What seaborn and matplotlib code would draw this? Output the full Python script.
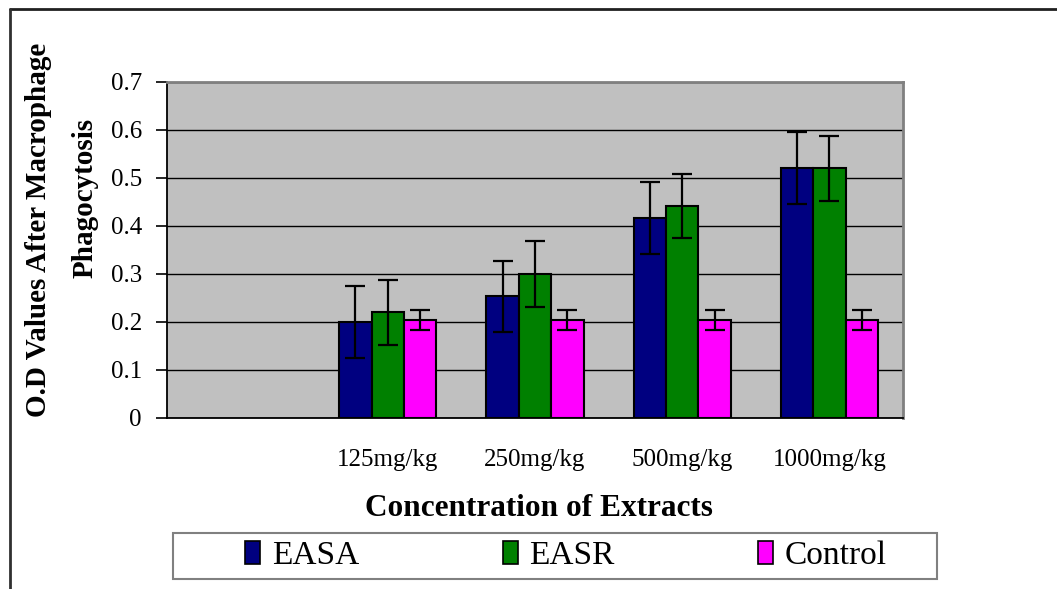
import matplotlib
matplotlib.use("Agg")
import matplotlib.pyplot as plt
from matplotlib.patches import Rectangle, Patch
from matplotlib.lines import Line2D
import seaborn as sns
import pandas as pd

# Concentrations (the first slot on the axis is left empty)
categories = ["", "125mg/kg", "250mg/kg", "500mg/kg", "1000mg/kg"]
doses = ["125mg/kg", "250mg/kg", "500mg/kg", "1000mg/kg"]
series = ["EASA", "EASR", "Control"]

easa_mean = [0.200, 0.254, 0.416, 0.520]
easr_mean = [0.220, 0.300, 0.441, 0.520]
control_mean = [0.204, 0.204, 0.204, 0.204]

easa_err = [0.076, 0.074, 0.075, 0.075]
easr_err = [0.067, 0.068, 0.067, 0.067]
control_err = [0.020, 0.020, 0.020, 0.020]

y_ticks = [0.0, 0.1, 0.2, 0.3, 0.4, 0.5, 0.6, 0.7]
y_tick_labels = ["0", "0.1", "0.2", "0.3", "0.4", "0.5", "0.6", "0.7"]

colors = {"EASA": "#000080", "EASR": "#008000", "Control": "#FF00FF"}

means = {"EASA": easa_mean, "EASR": easr_mean, "Control": control_mean}
errors = {"EASA": easa_err, "EASR": easr_err, "Control": control_err}

rows = []
for s in series:
    for d, m, e in zip(doses, means[s], errors[s]):
        rows.append({"Dose": d, "Group": s, "OD": m, "Err": e})
df = pd.DataFrame(rows)

sns.set_style("white")
plt.rcParams["font.family"] = ["Liberation Serif", "DejaVu Serif"]
plt.rcParams["text.color"] = "black"
plt.rcParams["xtick.color"] = "black"
plt.rcParams["ytick.color"] = "black"

fig = plt.figure(figsize=(10.57, 5.89), dpi=100)
ax = fig.add_axes([167 / 1057, 1 - 418 / 589, (903 - 167) / 1057, (418 - 82) / 589])
ax.set_facecolor("#C0C0C0")

sns.barplot(data=df, x="Dose", y="OD", hue="Group", order=categories,
            hue_order=series, palette=colors, saturation=1, errorbar=None,
            width=0.66, gap=0, dodge=True, edgecolor="black", linewidth=1.5,
            legend=False, ax=ax, zorder=3)

# Error bars drawn on each bar's centre
for s, container in zip(series, ax.containers):
    for bar, d in zip(container, doses):
        row = df[(df.Group == s) & (df.Dose == d)].iloc[0]
        ax.errorbar(bar.get_x() + bar.get_width() / 2, row.OD, yerr=row.Err,
                    fmt="none", ecolor="black", elinewidth=1.6, capsize=7,
                    capthick=1.6, zorder=4)

ax.set_xlim(-0.5, len(categories) - 0.5)
ax.set_ylim(0, 0.7)
ax.set_yticks(y_ticks)
ax.set_yticklabels(y_tick_labels)
ax.yaxis.grid(True, color="black", linewidth=1.0, zorder=1)
ax.set_axisbelow(True)

ax.set_xticks(range(len(categories)))
ax.set_xticklabels(categories)
ax.set_xticks([i - 0.5 for i in range(len(categories) + 1)], minor=True)
ax.tick_params(axis="x", which="major", length=0, pad=22, labelsize=18,
               labelcolor="black")
ax.tick_params(axis="x", which="minor", length=6, width=1.2, color="black",
               direction="out")
ax.tick_params(axis="y", length=8, width=1.2, color="black", direction="out",
               pad=10, labelsize=18, left=True, labelcolor="black")

for side in ["left", "bottom"]:
    ax.spines[side].set_color("black")
    ax.spines[side].set_linewidth(1.3)
for side in ["top", "right"]:
    ax.spines[side].set_color("#808080")
    ax.spines[side].set_linewidth(2)
    ax.spines[side].set_visible(True)

ax.set_xlabel("")
ax.set_ylabel("")

fig.text(539 / 1057, 1 - 509 / 589, "Concentration of Extracts",
         ha="center", va="center", fontsize=22.5, fontweight="bold",
         color="black")
fig.text(39 / 1057, 1 - 230 / 589, "O.D Values After Macrophage",
         ha="center", va="center", rotation=90, fontsize=21,
         fontweight="bold", color="black")
fig.text(85 / 1057, 1 - 198 / 589, "Phagocytosis",
         ha="center", va="center", rotation=90, fontsize=21,
         fontweight="bold", color="black")

# Outer chart border (top and left edges)
fig.add_artist(Line2D([10 / 1057, 1.0], [1 - 8.5 / 589, 1 - 8.5 / 589],
                      transform=fig.transFigure, color="#202020", lw=2))
fig.add_artist(Line2D([10 / 1057, 10 / 1057], [0.0, 1 - 8.5 / 589],
                      transform=fig.transFigure, color="#303030", lw=2))

# Legend box
fig.add_artist(Rectangle((173 / 1057, 1 - 579 / 589), (937 - 173) / 1057,
                         (579 - 533) / 589, transform=fig.transFigure,
                         facecolor="white", edgecolor="#808080", lw=1.5))
handles = [Patch(facecolor=colors[s], edgecolor="black", linewidth=1.2)
           for s in series]
fig.legend(handles, series, loc="center", ncol=3,
           bbox_to_anchor=(566 / 1057, 1 - 556 / 589), frameon=False,
           fontsize=24, handlelength=0.45, handleheight=0.7,
           handletextpad=0.35, columnspacing=4.3, borderpad=0)

fig.savefig("out.png", dpi=100)
